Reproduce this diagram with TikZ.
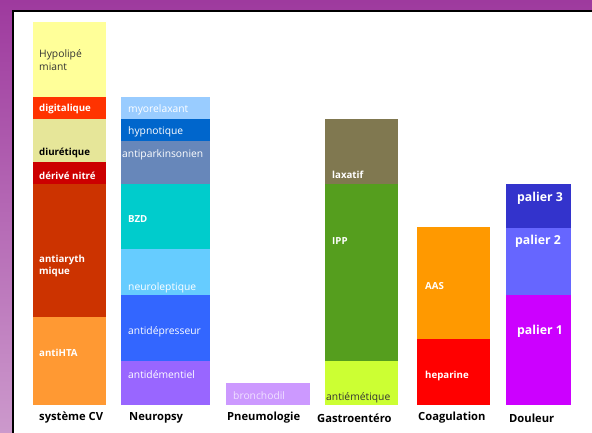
\documentclass[tikz,border=0pt]{standalone}
\usepackage{fontspec}
\setmainfont{Open Sans}
\usepackage{tikz}
\usetikzlibrary{positioning}

\begin{document}
\begin{tikzpicture}[x=1pt, y=-1pt,
				bar/.style={rectangle, inner sep=0pt, outer sep=0pt, anchor=north west},
				tag/.style={anchor=west, inner sep=0pt, align=left, text=white, font=\bfseries\fontsize{9.7}{12.5}\selectfont},
				plain/.style={tag, font=\fontsize{10.3}{12.5}\selectfont},
				big/.style={tag, font=\bfseries\fontsize{12.3}{14}\selectfont},
				group/.style={anchor=west, inner sep=0pt, font=\bfseries\fontsize{11.2}{13}\selectfont}]
				\useasboundingbox (0,0) rectangle (592,433);
				% frame
				\shade[top color={rgb,255:red,158;green,58;blue,158}, bottom color={rgb,255:red,204;green,153;blue,204}] (0,0) rectangle (592,433);
				\fill[white] (13,11) rectangle (592,433);
				\draw[line width=1.5pt] (13,433) -- (13,11) -- (592,11);
				
				% systeme CV
				\node[bar, fill={rgb,255:red,255;green,255;blue,153}, minimum width=73pt, minimum height=75pt](hypo) at (33,22) {};
				\node[bar, fill={rgb,255:red,255;green,51;blue,0}, minimum width=73pt, minimum height=22pt](digit) at (33,97) {};
				\node[bar, fill={rgb,255:red,230;green,230;blue,153}, minimum width=73pt, minimum height=43pt](diur) at (33,119) {};
				\node[bar, fill={rgb,255:red,204;green,0;blue,0}, minimum width=73pt, minimum height=22pt](nitre) at (33,162) {};
				\node[bar, fill={rgb,255:red,204;green,51;blue,0}, minimum width=73pt, minimum height=133pt](arythm) at (33,184) {};
				\node[bar, fill={rgb,255:red,255;green,153;blue,51}, minimum width=73pt, minimum height=88pt](hta) at (33,317) {};
				\node[plain, text={rgb,255:red,51;green,51;blue,51}](hypotxt) at (39,60) {Hypolipé\\miant};
				\node[tag](digittxt) at (39,109) {digitalique};
				\node[tag, text=black](diurtxt) at (39,153) {diurétique};
				\node[tag](nitretxt) at (39,176) {dérivé nitré};
				\node[tag](arythmtxt) at (39,266) {antiaryth\\mique};
				\node[tag](htatxt) at (39,353) {antiHTA};
				\node[group](cv) at (39,418) {système CV};
				
				% Neuropsy
				\node[bar, fill={rgb,255:red,153;green,204;blue,255}, minimum width=89pt, minimum height=22pt](myo) at (121,97) {};
				\node[bar, fill={rgb,255:red,0;green,102;blue,204}, minimum width=89pt, minimum height=22pt](hypn) at (121,119) {};
				\node[bar, fill={rgb,255:red,103;green,135;blue,186}, minimum width=89pt, minimum height=43pt](park) at (121,141) {};
				\node[bar, fill={rgb,255:red,0;green,204;blue,204}, minimum width=89pt, minimum height=65pt](bzd) at (121,184) {};
				\node[bar, fill={rgb,255:red,102;green,204;blue,255}, minimum width=89pt, minimum height=46pt](neurol) at (121,249) {};
				\node[bar, fill={rgb,255:red,51;green,102;blue,255}, minimum width=89pt, minimum height=66pt](antidep) at (121,295) {};
				\node[bar, fill={rgb,255:red,153;green,102;blue,255}, minimum width=89pt, minimum height=44pt](antidem) at (121,361) {};
				\node[plain](myotxt) at (128,110) {myorelaxant};
				\node[plain](hypntxt) at (128,132) {hypnotique};
				\node[plain](parktxt) at (122,155) {antiparkinsonien};
				\node[tag](bzdtxt) at (128,219) {BZD};
				\node[plain](neuroltxt) at (128,288) {neuroleptique};
				\node[plain](antideptxt) at (128,332) {antidépresseur};
				\node[plain](antidemtxt) at (128,375) {antidémentiel};
				\node[group](neuro) at (129,418) {Neuropsy};
				
				% Pneumologie
				\node[bar, fill={rgb,255:red,204;green,153;blue,255}, minimum width=84pt, minimum height=22pt](broncho) at (226,383) {};
				\node[plain, text={rgb,255:red,240;green,225;blue,255}](bronchotxt) at (233,396) {bronchodil};
				\node[group](pneumo) at (227,418) {Pneumologie};
				
				% Gastroentero
				\node[bar, fill={rgb,255:red,128;green,120;blue,80}, minimum width=73pt, minimum height=65pt](laxatif) at (325,119) {};
				\node[bar, fill={rgb,255:red,85;green,158;blue,30}, minimum width=73pt, minimum height=177pt](ipp) at (325,184) {};
				\node[bar, fill={rgb,255:red,204;green,255;blue,51}, minimum width=73pt, minimum height=44pt](antiem) at (325,361) {};
				\node[tag](laxatiftxt) at (332,175) {laxatif};
				\node[tag](ipptxt) at (332,241) {IPP};
				\node[plain, text={rgb,255:red,51;green,51;blue,51}](antiemtxt) at (326,398) {antiémétique};
				\node[group](gastro) at (317,418) {Gastroentéro};
				
				% Coagulation
				\node[bar, fill={rgb,255:red,255;green,153;blue,0}, minimum width=73pt, minimum height=112pt](aas) at (417,227) {};
				\node[bar, fill={rgb,255:red,255;green,0;blue,0}, minimum width=73pt, minimum height=66pt](hep) at (417,339) {};
				\node[tag](aastxt) at (425,286) {AAS};
				\node[tag](heptxt) at (425,376) {heparine};
				\node[group](coag) at (418,418) {Coagulation};
				
				% Douleur
				\node[bar, fill={rgb,255:red,51;green,51;blue,204}, minimum width=65pt, minimum height=44pt](pal3) at (506,184) {};
				\node[bar, fill={rgb,255:red,102;green,102;blue,255}, minimum width=65pt, minimum height=67pt](pal2) at (506,228) {};
				\node[bar, fill={rgb,255:red,204;green,0;blue,255}, minimum width=65pt, minimum height=110pt](pal1) at (506,295) {};
				\node[big](pal3txt) at (517,198) {palier 3};
				\node[big](pal2txt) at (515,241) {palier 2};
				\node[big](pal1txt) at (517,331) {palier 1};
				\node[group](douleur) at (509,418) {Douleur};
			\end{tikzpicture}
\end{document}
